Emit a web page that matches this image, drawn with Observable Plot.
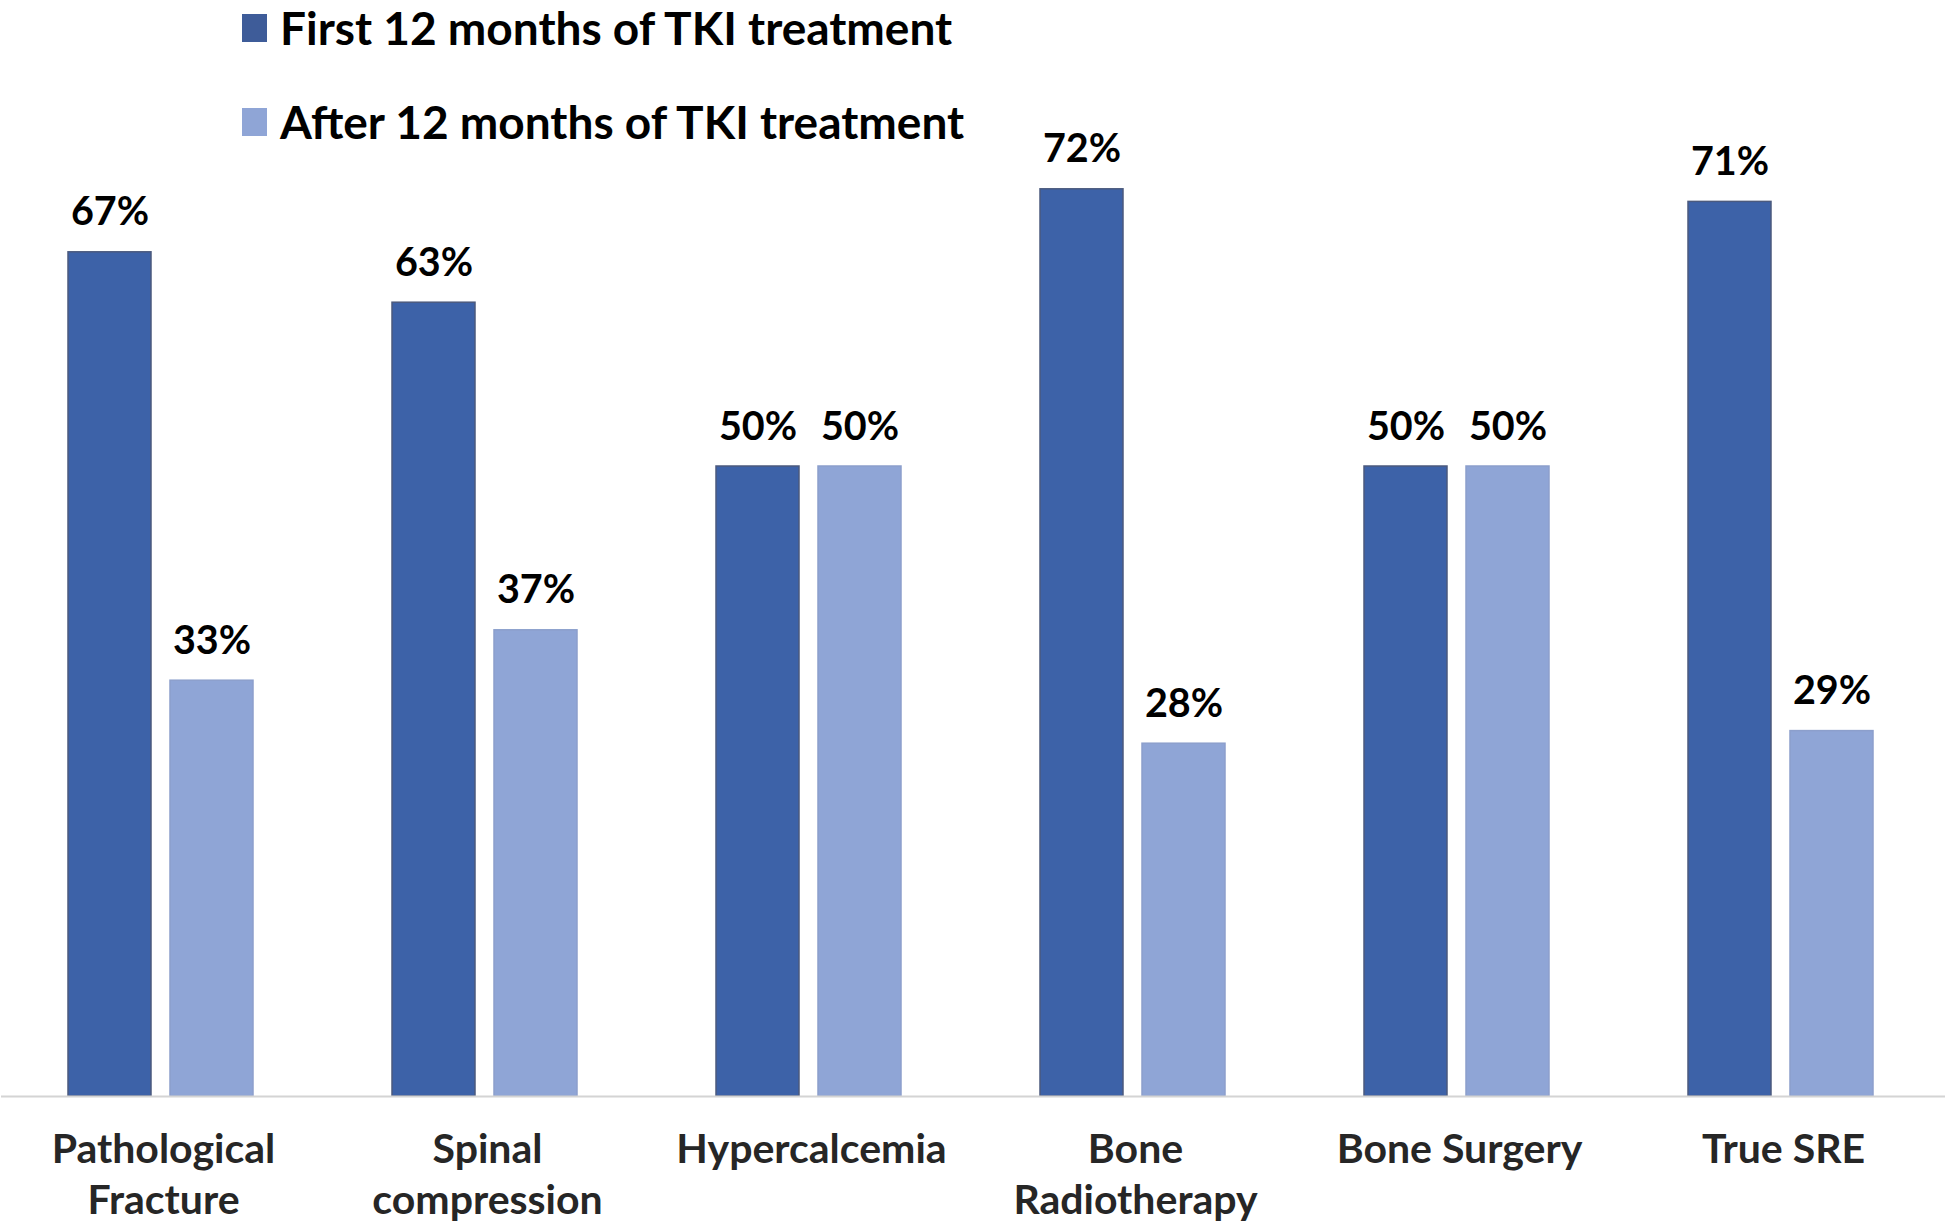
<!DOCTYPE html>
<html>
<head>
<meta charset="utf-8">
<script src="https://cdn.jsdelivr.net/npm/d3@7"></script>
<script src="https://cdn.jsdelivr.net/npm/@observablehq/plot@0.6"></script>
<style>
  html, body { margin: 0; padding: 0; background: #fff; }
  #wrap { position: relative; width: 1945px; height: 1228px; overflow: hidden; font-family: Lato, "Open Sans", sans-serif; }
  #chart { position: absolute; left: 0; top: 0; }
  .leg { position: absolute; display: flex; align-items: center; font-weight: 700; font-size: 46px; line-height: 1.2; color: #000; white-space: nowrap; }
  .sw { width: 25px; height: 28px; margin-right: 13px; }
</style>
</head>
<body>
<div id="wrap">
  <div id="chart"></div>
  <div class="leg" id="leg1" style="left:242px; top:0px;"><span class="sw" style="background:#3E5C99"></span><span>First 12 months of TKI treatment</span></div>
  <div class="leg" id="leg2" style="left:242px; top:94px;"><span class="sw" style="background:#8FA5D6"></span><span>After 12 months of TKI treatment</span></div>
</div>
<script>
const categories = ["Pathological Fracture", "Spinal compression", "Hypercalcemia", "Bone Radiotherapy", "Bone Surgery", "True SRE"];
const categoryLabels = ["Pathological\nFracture", "Spinal\ncompression", "Hypercalcemia", "Bone\nRadiotherapy", "Bone Surgery", "True SRE"];
const seriesNames = ["First 12 months of TKI treatment", "After 12 months of TKI treatment"];
const firstValues = [0.67, 0.63, 0.50, 0.72, 0.50, 0.71];
const afterValues = [0.33, 0.37, 0.50, 0.28, 0.50, 0.29];
const seriesFill = ["#3D62A8", "#8FA5D6"];
const seriesStroke = ["#4B5A7E", "#8C9FCC"];

const rows = [];
categories.forEach((c, i) => {
  rows.push({category: c, series: seriesNames[0], value: firstValues[i]});
  rows.push({category: c, series: seriesNames[1], value: afterValues[i]});
});
const labelOf = Object.fromEntries(categories.map((c, i) => [c, categoryLabels[i]]));

const chart = Plot.plot({
  width: 1945,
  height: 1228,
  marginTop: 88,
  marginBottom: 132,
  marginLeft: 0,
  marginRight: 0,
  style: {fontFamily: "Lato, 'Open Sans', sans-serif", background: "#fff"},
  fx: {domain: categories, padding: 0, axis: null},
  x: {domain: seriesNames, paddingInner: 0.182, paddingOuter: 0.675, align: 0.482, axis: null},
  y: {domain: [0, 0.8], axis: null},
  color: {domain: seriesNames, range: seriesFill},
  marks: [
    Plot.barY(rows, {fx: "category", x: "series", y: "value", fill: "series",
      stroke: d => seriesStroke[seriesNames.indexOf(d.series)], strokeWidth: 1.5}),
    Plot.ruleY([0], {stroke: "#d4d4d4", strokeWidth: 2}),
    Plot.text(rows, {fx: "category", x: "series", y: "value", text: d => Math.round(d.value * 100) + "%",
      lineAnchor: "bottom", dy: -27, fontSize: 39.5, fontWeight: "bold", fill: "#000"}),
    Plot.axisFx({anchor: "bottom", tickSize: 0, tickPadding: 30, fontSize: 41, fontWeight: "bold",
      lineHeight: 1.25, label: null, fill: "#262626", tickFormat: d => labelOf[d]})
  ]
});
document.getElementById("chart").appendChild(chart);
</script>
</body>
</html>
